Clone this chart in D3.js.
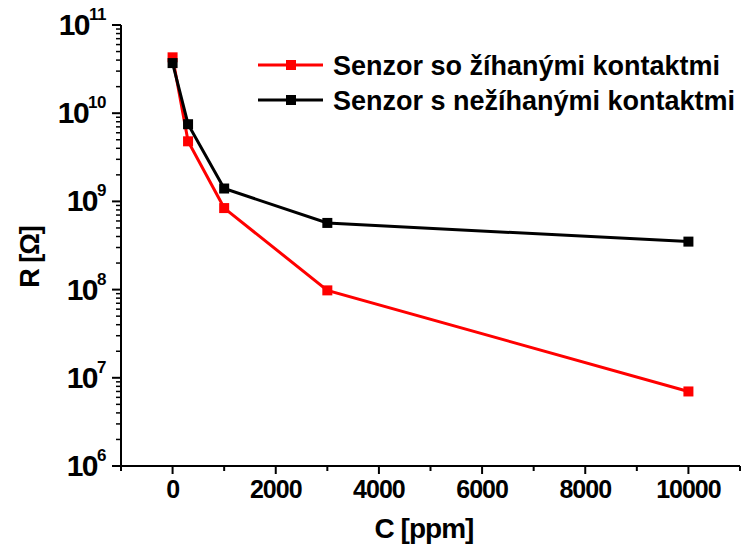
<!DOCTYPE html>
<html><head><meta charset="utf-8">
<script src="https://cdn.jsdelivr.net/npm/d3@7"></script>
<style>body{margin:0;background:#fff}svg{display:block}text{font-family:"Liberation Sans",Arial,sans-serif;font-weight:bold}</style>
</head><body>
<script>
const concentrations = [0, 300, 1000, 3000, 10000];
const annealed = [4.3e10, 4.8e9, 8.4e8, 9.8e7, 7.0e6];
const nonAnnealed = [3.7e10, 7.5e9, 1.4e9, 5.7e8, 3.5e8];
const seriesNames = ["Senzor so žíhanými kontaktmi", "Senzor s nežíhanými kontaktmi"];
const seriesColors = ["#ff0000", "#000000"];
const xTickValues = [0, 2000, 4000, 6000, 8000, 10000];
const yExponents = [6, 7, 8, 9, 10, 11];

const W = 747, H = 552;
const svg = d3.select("body").append("svg").attr("width", W).attr("height", H);
const L = 121, R = 740, T = 25, B = 466;
const x = d3.scaleLinear().domain([-1000, 11000]).range([L, R]);
const y = d3.scaleLog().domain([1e6, 1e11]).range([B, T]);

// axes lines
svg.append("line").attr("x1", L).attr("x2", L).attr("y1", T).attr("y2", B).attr("stroke", "#000").attr("stroke-width", 2);
svg.append("line").attr("x1", L).attr("x2", R).attr("y1", B).attr("y2", B).attr("stroke", "#000").attr("stroke-width", 2);

// x ticks
const xMinor = d3.range(-1000, 11001, 2000);
svg.selectAll(".xminor").data(xMinor).enter().append("line")
  .attr("x1", d => x(d)).attr("x2", d => x(d)).attr("y1", B).attr("y2", B + 5)
  .attr("stroke", "#000").attr("stroke-width", 2);
svg.selectAll(".xmajor").data(xTickValues).enter().append("line")
  .attr("x1", d => x(d)).attr("x2", d => x(d)).attr("y1", B).attr("y2", B + 8)
  .attr("stroke", "#000").attr("stroke-width", 2);
svg.selectAll(".xlab").data(xTickValues).enter().append("text")
  .attr("x", d => x(d)).attr("y", 498).attr("text-anchor", "middle")
  .attr("font-size", 25).attr("letter-spacing", -1).text(d => d);

// y ticks
const yMinor = [];
yExponents.slice(0, -1).forEach(e => { for (let m = 2; m <= 9; m++) yMinor.push(m * Math.pow(10, e)); });
svg.selectAll(".yminor").data(yMinor).enter().append("line")
  .attr("x1", L - 5).attr("x2", L).attr("y1", d => y(d)).attr("y2", d => y(d))
  .attr("stroke", "#000").attr("stroke-width", 1.5);
svg.selectAll(".ymajor").data(yExponents).enter().append("line")
  .attr("x1", L - 9).attr("x2", L).attr("y1", d => y(Math.pow(10, d))).attr("y2", d => y(Math.pow(10, d)))
  .attr("stroke", "#000").attr("stroke-width", 2);
const yl = svg.selectAll(".ylab").data(yExponents).enter().append("text")
  .attr("x", 106).attr("y", d => y(Math.pow(10, d)) + 10).attr("text-anchor", "end")
  .attr("font-size", 30).attr("letter-spacing", -1.5);
yl.append("tspan").text("10");
yl.append("tspan").attr("font-size", 17).attr("dy", -15).attr("letter-spacing", -0.5).text(d => d);

// axis titles
svg.append("text").attr("x", 424).attr("y", 538).attr("text-anchor", "middle")
  .attr("font-size", 28).attr("letter-spacing", -1).text("C [ppm]");
svg.append("text").attr("transform", "translate(39,257) rotate(-90)").attr("text-anchor", "middle")
  .attr("font-size", 27).attr("letter-spacing", -1).text("R [Ω]");

// series
const seriesData = [annealed, nonAnnealed];
const line = d3.line().x(d => x(d[0])).y(d => y(d[1]));
seriesData.forEach((vals, i) => {
  const pts = concentrations.map((c, j) => [c, vals[j]]);
  svg.append("path").datum(pts).attr("d", line).attr("fill", "none")
    .attr("stroke", seriesColors[i]).attr("stroke-width", 3);
  svg.selectAll(".m" + i).data(pts).enter().append("rect")
    .attr("x", d => x(d[0]) - 5).attr("y", d => y(d[1]) - 5).attr("width", 10).attr("height", 10)
    .attr("fill", seriesColors[i]);
});

// legend
seriesNames.forEach((name, i) => {
  const ly = 65 + i * 35;
  svg.append("line").attr("x1", 258).attr("x2", 323).attr("y1", ly).attr("y2", ly)
    .attr("stroke", seriesColors[i]).attr("stroke-width", 3);
  svg.append("rect").attr("x", 286).attr("y", ly - 5).attr("width", 10).attr("height", 10).attr("fill", seriesColors[i]);
  svg.append("text").attr("x", 333).attr("y", ly + 10).attr("font-size", 27)
    .text(name);
});
</script>
</body></html>
